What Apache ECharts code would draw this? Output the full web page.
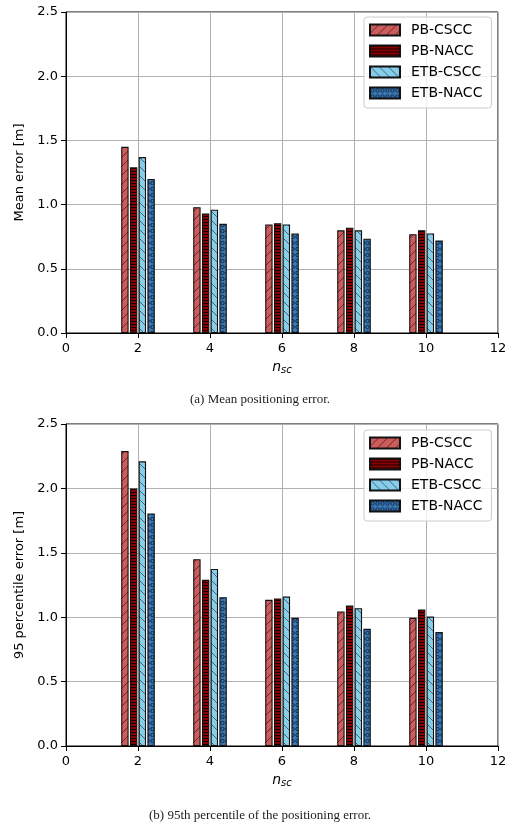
<!DOCTYPE html>
<html>
<head>
<meta charset="utf-8">
<script src="https://cdn.jsdelivr.net/npm/echarts@6/dist/echarts.min.js"></script>
<style>
  html, body { margin: 0; padding: 0; background: #fff; }
  #chart { width: 520px; height: 827px; }
</style>
</head>
<body>
<div id="chart"></div>
<script>
// Number of subcarriers on the x axis
const nsc = [2, 4, 6, 8, 10];
const seriesNames = ['PB-CSCC', 'PB-NACC', 'ETB-CSCC', 'ETB-NACC'];
const yTicks = ['0.0', '0.5', '1.0', '1.5', '2.0', '2.5'];
const xTicks = ['0', '2', '4', '6', '8', '10', '12'];

// (a) mean positioning error [m]
const meanPBCSCC  = [1.45, 0.98, 0.845, 0.80, 0.77];
const meanPBNACC  = [1.29, 0.93, 0.855, 0.82, 0.80];
const meanETBCSCC = [1.37, 0.96, 0.845, 0.80, 0.775];
const meanETBNACC = [1.20, 0.85, 0.775, 0.735, 0.72];

// (b) 95th percentile positioning error [m]
const p95PBCSCC  = [2.29, 1.45, 1.135, 1.045, 0.995];
const p95PBNACC  = [2.00, 1.29, 1.145, 1.09, 1.06];
const p95ETBCSCC = [2.21, 1.375, 1.16, 1.07, 1.005];
const p95ETBNACC = [1.805, 1.155, 0.995, 0.91, 0.885];

// Hatched fill tiles
function tile(w, h, bg, draw) {
  const c = document.createElement('canvas');
  c.width = w; c.height = h;
  const ctx = c.getContext('2d');
  ctx.fillStyle = bg;
  ctx.fillRect(0, 0, w, h);
  draw(ctx, w, h);
  return { image: c, repeat: 'repeat' };
}
const fwdHatch = tile(9, 9, '#cd5c5c', (ctx, w, h) => {
  ctx.strokeStyle = 'rgba(60,20,20,0.7)'; ctx.lineWidth = 1;
  ctx.beginPath();
  ctx.moveTo(-1, h + 1); ctx.lineTo(w + 1, -1);
  ctx.moveTo(-1, 1); ctx.lineTo(1, -1);
  ctx.moveTo(w - 1, h + 1); ctx.lineTo(w + 1, h - 1);
  ctx.stroke();
});
const horizHatch = tile(4, 3, '#8b0000', (ctx, w) => {
  ctx.fillStyle = 'rgba(0,0,0,0.85)';
  ctx.fillRect(0, 0, w, 1);
});
const backHatch = tile(9, 9, '#87ceeb', (ctx, w, h) => {
  ctx.strokeStyle = 'rgba(40,60,80,0.7)'; ctx.lineWidth = 1;
  ctx.beginPath();
  ctx.moveTo(-1, -1); ctx.lineTo(w + 1, h + 1);
  ctx.moveTo(w - 1, -1); ctx.lineTo(w + 1, 1);
  ctx.moveTo(-1, h - 1); ctx.lineTo(1, h + 1);
  ctx.stroke();
});
const circleHatch = tile(5, 6, '#3c78b4', (ctx) => {
  ctx.strokeStyle = '#0d2b4d'; ctx.lineWidth = 1;
  ctx.beginPath();
  ctx.arc(2.5, 3, 1.7, 0, Math.PI * 2);
  ctx.stroke();
});
const fills = [fwdHatch, horizHatch, backHatch, circleHatch];

const FONT = 'DejaVu Sans';
const grids = [
  { left: 66, top: 12, width: 432, height: 321 },
  { left: 66, top: 424, width: 432, height: 322 }
];
const yNames = ['Mean error [m]', '95 percentile error [m]'];
const panelData = [
  [meanPBCSCC, meanPBNACC, meanETBCSCC, meanETBNACC],
  [p95PBCSCC, p95PBNACC, p95ETBCSCC, p95ETBNACC]
];

function xAxis(i) {
  return {
    type: 'value', gridIndex: i, min: 0, max: 12, interval: 2,
    name: '{n|n}{s|sc}', nameLocation: 'middle', nameGap: 26,
    nameTextStyle: {
      rich: {
        n: { fontFamily: FONT, fontStyle: 'italic', fontSize: 14, color: '#000' },
        s: { fontFamily: FONT, fontStyle: 'italic', fontSize: 10, color: '#000', verticalAlign: 'bottom', padding: [6, 0, 0, 0] }
      }
    },
    axisLine: { show: true, lineStyle: { color: '#000', width: 1 } },
    axisTick: { show: true, inside: false, length: 5, lineStyle: { color: '#000' } },
    axisLabel: { fontFamily: FONT, fontSize: 13, color: '#000', margin: 9,
      formatter: v => xTicks[Math.round(v / 2)] },
    splitLine: { show: true, lineStyle: { color: '#b0b0b0', width: 1 } }
  };
}
function yAxis(i) {
  return {
    type: 'value', gridIndex: i, min: 0, max: 2.5, interval: 0.5,
    name: yNames[i], nameLocation: 'middle', nameGap: 32,
    nameTextStyle: { fontFamily: FONT, fontSize: 13, color: '#000' },
    axisLine: { show: true, lineStyle: { color: '#000', width: 1 } },
    axisTick: { show: true, inside: false, length: 5, lineStyle: { color: '#000' } },
    axisLabel: { fontFamily: FONT, fontSize: 13, color: '#000', margin: 8,
      formatter: v => yTicks[Math.round(v / 0.5)] },
    splitLine: { show: true, lineStyle: { color: '#b0b0b0', width: 1 } }
  };
}
function legend(top) {
  return {
    data: seriesNames, orient: 'vertical', left: 364, top: top,
    itemWidth: 30, itemHeight: 11, itemGap: 7,
    padding: [6, 9, 8, 5],
    backgroundColor: 'rgba(255,255,255,0.8)',
    borderColor: '#cccccc', borderWidth: 1, borderRadius: 3,
    selectedMode: false,
    icon: 'rect',
    textStyle: { fontFamily: FONT, fontSize: 14, color: '#000', lineHeight: 14, padding: [0, 0, 0, 6] }
  };
}

const series = [];
panelData.forEach((vals, gi) => {
  vals.forEach((arr, si) => {
    series.push({
      type: 'bar', name: seriesNames[si],
      xAxisIndex: gi, yAxisIndex: gi,
      barWidth: 7.4, barGap: '18%',
      data: nsc.map((x, k) => [x, arr[k]]),
      itemStyle: { color: fills[si], borderColor: '#111', borderWidth: 1.1 },
      emphasis: { disabled: true },
      animation: false
    });
  });
});

const chart = echarts.init(document.getElementById('chart'), null, { renderer: 'canvas' });
chart.setOption({
  animation: false,
  grid: grids.map(g => Object.assign({ show: true, borderColor: '#000', borderWidth: 1, backgroundColor: 'transparent' }, g)),
  xAxis: [xAxis(0), xAxis(1)],
  yAxis: [yAxis(0), yAxis(1)],
  legend: [legend(17), legend(430)],
  series: series,
  graphic: [
    { type: 'text', left: 'center', top: 393,
      style: { text: '(a) Mean positioning error.', font: '13px "Liberation Serif"', fill: '#222' } },
    { type: 'text', left: 'center', top: 809,
      style: { text: '(b) 95th percentile of the positioning error.', font: '13px "Liberation Serif"', fill: '#222' } }
  ]
});
</script>
</body>
</html>
